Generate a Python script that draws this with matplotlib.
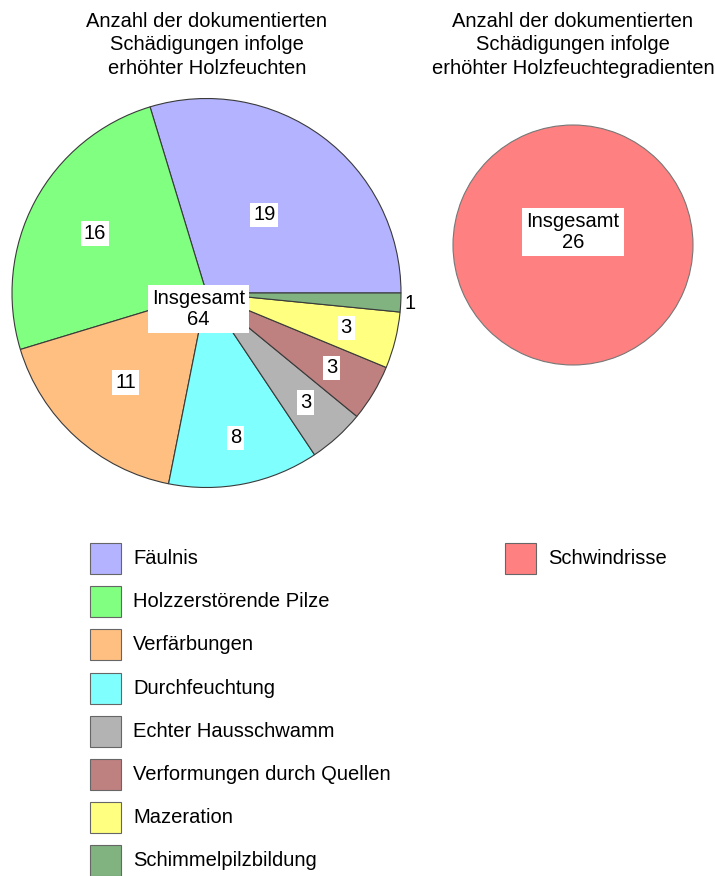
import matplotlib
matplotlib.use("Agg")
import matplotlib.pyplot as plt
from matplotlib.patches import Rectangle
import numpy as np

plt.rcParams['font.family'] = ['Liberation Sans', 'DejaVu Sans']

# ---- data ----
categories = ["Fäulnis", "Holzzerstörende Pilze", "Verfärbungen", "Durchfeuchtung",
              "Echter Hausschwamm", "Verformungen durch Quellen", "Mazeration",
              "Schimmelpilzbildung"]
values = [19, 16, 11, 8, 3, 3, 3, 1]
colors = ["#b3b3ff", "#80ff80", "#ffbf80", "#80ffff", "#b3b3b3", "#bf8080",
          "#ffff80", "#80b380"]
categories2 = ["Schwindrisse"]
values2 = [26]
colors2 = ["#ff8080"]
title1 = "Anzahl der dokumentierten\nSchädigungen infolge\nerhöhter Holzfeuchten"
title2 = "Anzahl der dokumentierten\nSchädigungen infolge\nerhöhter Holzfeuchtegradienten"
total_label = "Insgesamt"

# ---- layout (pixel space, y from bottom) ----
W, H = 715, 876
fig = plt.figure(figsize=(W / 100, H / 100), dpi=100)
ax = fig.add_axes([0, 0, 1, 1])

def Y(py):
    return H - py

fs = 14.5

# left pie
c1 = (206.5, Y(293))
r1 = 194.5
wedges, _ = ax.pie(values, colors=colors, startangle=0, counterclock=True,
                   center=c1, radius=r1, frame=True,
                   wedgeprops=dict(edgecolor='#3a3a3a', linewidth=0.8))
label_r = [0.50, 0.65, 0.62, 0.76, 0.76, 0.75, 0.74, 1.05]
tot = sum(values)
ang0 = 0.0
for v, lr in zip(values, label_r):
    mid = np.deg2rad(ang0 + 360 * v / tot / 2)
    ang0 += 360 * v / tot
    x = c1[0] + lr * r1 * np.cos(mid)
    y = c1[1] + lr * r1 * np.sin(mid)
    if lr > 1:
        ax.text(x, y, str(v), ha='center', va='center', fontsize=fs)
    else:
        ax.text(x, y, str(v), ha='center', va='center', fontsize=fs,
                bbox=dict(facecolor='white', edgecolor='none', pad=2))
ax.text(c1[0] - 8, c1[1] - 16, f"{total_label}\n{tot}", ha='center', va='center',
        fontsize=fs, linespacing=1.15,
        bbox=dict(facecolor='white', edgecolor='none', pad=3))

# right pie
c2 = (573, Y(245))
r2 = 120
ax.pie(values2, colors=colors2, startangle=0, center=c2, radius=r2, frame=True,
       wedgeprops=dict(edgecolor='#777777', linewidth=0.8))
ax.text(c2[0], c2[1] + 13, f"{total_label}\n{sum(values2)}", ha='center', va='center',
        fontsize=fs, linespacing=1.15,
        bbox=dict(facecolor='white', edgecolor='none', pad=3))

ax.set_xlim(0, W)
ax.set_ylim(0, H)
ax.set_aspect('auto')
ax.axis('off')

# titles
ax.text(207, Y(45), title1, ha='center', va='center', fontsize=fs, linespacing=1.27)
ax.text(573, Y(45), title2, ha='center', va='center', fontsize=fs, linespacing=1.27)

# legends
def legend(x0, y0, labels, cols):
    for i, (lab, col) in enumerate(zip(labels, cols)):
        yc = y0 + i * 43.2
        ax.add_patch(Rectangle((x0, Y(yc) - 15.5), 31, 31, facecolor=col,
                               edgecolor='#666666', linewidth=0.8))
        ax.text(x0 + 43, Y(yc), lab, ha='left', va='center', fontsize=fs)

legend(90, 558.5, categories, colors)
legend(505, 558.5, categories2, colors2)

fig.savefig("out.png", dpi=100)
